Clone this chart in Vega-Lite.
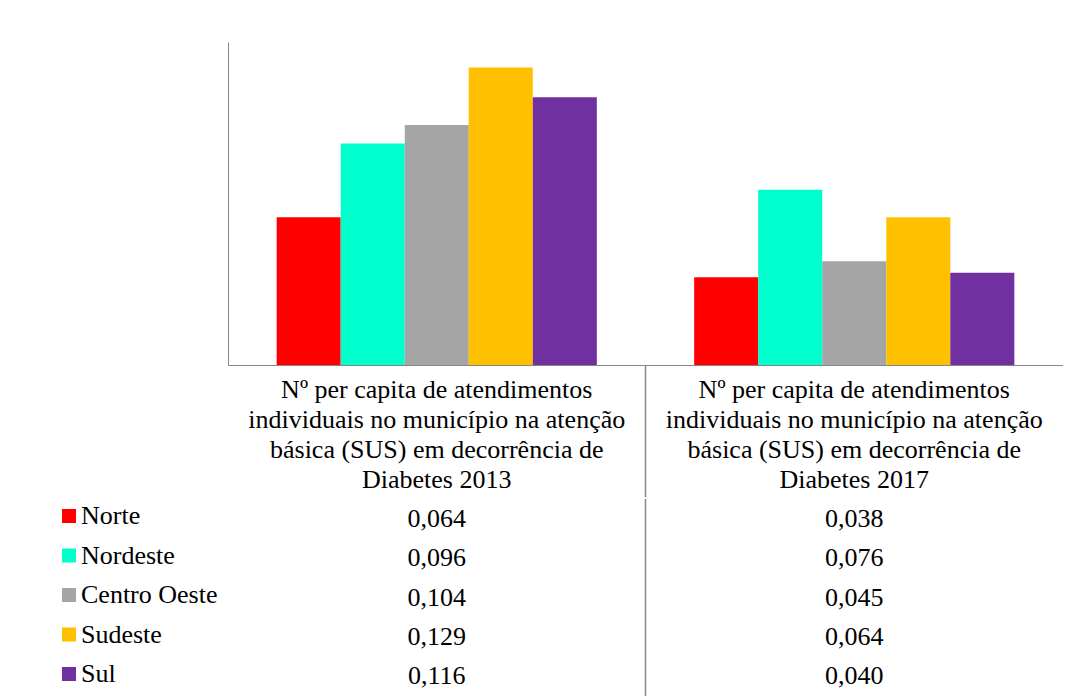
{
  "$schema": "https://vega.github.io/schema/vega-lite/v6.json",
  "padding": {"left": 56, "top": 42, "right": 0, "bottom": 0},
  "spacing": 0,
  "background": "#ffffff",
  "config": {
    "locale": {"number": {"decimal": ",", "thousands": ".", "grouping": [3], "currency": ["R$", ""]}},
    "view": {"stroke": null},
    "font": "Liberation Serif",
    "concat": {"spacing": 0}
  },
  "datasets": {
    "bars": [
      {"ano": "2013", "regiao": "Norte", "valor": 0.064},
      {"ano": "2013", "regiao": "Nordeste", "valor": 0.096},
      {"ano": "2013", "regiao": "Centro Oeste", "valor": 0.104},
      {"ano": "2013", "regiao": "Sudeste", "valor": 0.129},
      {"ano": "2013", "regiao": "Sul", "valor": 0.116},
      {"ano": "2017", "regiao": "Norte", "valor": 0.038},
      {"ano": "2017", "regiao": "Nordeste", "valor": 0.076},
      {"ano": "2017", "regiao": "Centro Oeste", "valor": 0.045},
      {"ano": "2017", "regiao": "Sudeste", "valor": 0.064},
      {"ano": "2017", "regiao": "Sul", "valor": 0.040}
    ],
    "header": [
      {"ano": "2013", "label": "Nº per capita de atendimentos\nindividuais no município na atenção\nbásica (SUS) em decorrência de\nDiabetes 2013"},
      {"ano": "2017", "label": "Nº per capita de atendimentos\nindividuais no município na atenção\nbásica (SUS) em decorrência de\nDiabetes 2017"}
    ]
  },
  "vconcat": [
    {
      "width": 835,
      "height": 323,
      "data": {"name": "bars"},
      "mark": {"type": "bar"},
      "encoding": {
        "x": {"field": "ano", "type": "nominal", "scale": {"type": "band", "paddingInner": 0, "paddingOuter": 0},
              "axis": {"labels": false, "ticks": false, "title": null, "domainColor": "#868686", "domainWidth": 1}},
        "xOffset": {"field": "regiao", "type": "nominal", "sort": ["Norte", "Nordeste", "Centro Oeste", "Sudeste", "Sul"],
                    "scale": {"paddingInner": 0, "paddingOuter": 0.76}},
        "y": {"field": "valor", "type": "quantitative", "scale": {"domain": [0, 0.14], "nice": false},
              "axis": {"labels": false, "ticks": false, "grid": false, "title": null, "domainColor": "#868686", "domainWidth": 1}},
        "color": {"field": "regiao", "type": "nominal",
                  "scale": {"domain": ["Norte", "Nordeste", "Centro Oeste", "Sudeste", "Sul"],
                            "range": ["#FF0000", "#00FFCC", "#A5A5A5", "#FFC000", "#7030A0"]},
                  "legend": {"orient": "none", "legendX": -172, "legendY": 461, "title": null, "padding": 0,
                             "symbolType": "square", "symbolSize": 196, "symbolStrokeWidth": 0, "symbolOpacity": 1,
                             "labelFont": "Liberation Serif", "labelFontSize": 26, "labelColor": "#000000",
                             "labelOffset": -1, "rowPadding": 13.5, "labelLimit": 300}}
      }
    },
    {
      "width": 835,
      "height": 131,
      "data": {"name": "header"},
      "layer": [
        {
          "transform": [{"filter": "datum.ano == '2017'"}],
          "mark": {"type": "rule", "color": "#868686", "strokeWidth": 1.5},
          "encoding": {"x": {"field": "ano", "type": "nominal", "bandPosition": 0,
                             "scale": {"type": "band", "paddingInner": 0, "paddingOuter": 0, "domain": ["2013", "2017"]}, "axis": null}}
        },
        {
          "mark": {"type": "text", "font": "Liberation Serif", "fontSize": 26, "lineBreak": "\n", "lineHeight": 30.3,
                   "align": "center", "baseline": "middle", "dy": -42, "color": "#000000"},
          "encoding": {
            "x": {"field": "ano", "type": "nominal", "scale": {"type": "band", "paddingInner": 0, "paddingOuter": 0, "domain": ["2013", "2017"]}, "axis": null},
            "text": {"field": "label"}
          }
        }
      ]
    },
    {
      "width": 835,
      "height": 197,
      "data": {"name": "bars"},
      "layer": [
        {
          "transform": [{"filter": "datum.ano == '2017' && datum.regiao == 'Norte'"}],
          "mark": {"type": "rule", "color": "#868686", "strokeWidth": 1.5},
          "encoding": {"x": {"field": "ano", "type": "nominal", "bandPosition": 0,
                             "scale": {"type": "band", "paddingInner": 0, "paddingOuter": 0, "domain": ["2013", "2017"]}, "axis": null}}
        },
        {
          "mark": {"type": "text", "font": "Liberation Serif", "fontSize": 26, "align": "center", "baseline": "middle", "color": "#000000"},
          "encoding": {
            "x": {"field": "ano", "type": "nominal", "scale": {"type": "band", "paddingInner": 0, "paddingOuter": 0, "domain": ["2013", "2017"]}, "axis": null},
            "y": {"field": "regiao", "type": "nominal", "sort": ["Norte", "Nordeste", "Centro Oeste", "Sudeste", "Sul"],
                  "scale": {"type": "band", "paddingInner": 0, "paddingOuter": 0}, "axis": null},
            "text": {"field": "valor", "type": "quantitative", "format": ".3f"}
          }
        }
      ]
    }
  ]
}
